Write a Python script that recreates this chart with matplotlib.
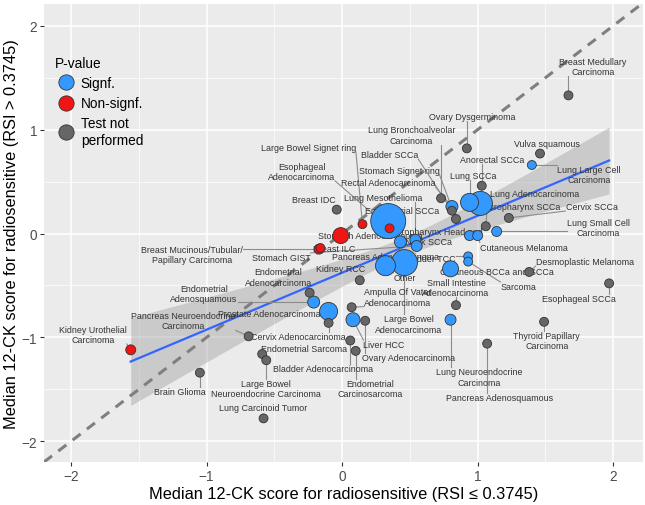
import numpy as np
import matplotlib
matplotlib.use("Agg")
import matplotlib.pyplot as plt
from matplotlib.lines import Line2D

plt.rcParams["font.family"] = ["Liberation Sans", "DejaVu Sans"]

# ---- data ----
tumor_types = [
    "Breast Medullary\nCarcinoma", "Ovary Dysgerminoma", "Vulva squamous", "Anorectal SCCa",
    "Lung Bronchoalveolar\nCarcinoma", "Bladder SCCa", "Stomach Signet ring", "Cervix SCCa",
    "Oropharynx SCCa", "Breast IDC", "Desmoplastic Melanoma", "Esophageal SCCa",
    "Kidney RCC", "Endometrial\nAdenocarcinoma", "Cervix Adenocarcinoma",
    "Ampulla Of Vater\nAdenocarcinoma", "Ovary Adenocarcinoma", "Bladder Adenocarcinoma",
    "Endometrial\nCarcinosarcoma", "Pancreas Neuroendocrine\nCarcinoma", "Endometrial Sarcoma",
    "Large Bowel\nNeuroendocrine Carcinoma", "Lung Carcinoid Tumor", "Brain Glioma",
    "Small Intestine\nAdenocarcinoma", "Pancreas Adenosquamous", "Thyroid Papillary\nCarcinoma",
    "Lung Large Cell\nCarcinoma", "Lung SCCa", "Lung Adenocarcinoma", "Rectal Adenocarcinoma",
    "Lung Small Cell\nCarcinoma", "Non-Oropharynx Head and\nNeck SCCa", "Cutaneous Melanoma",
    "Endometrial SCCa", "Pancreas Adenocarcinoma", "Lung Mesothelioma", "Stomach GIST",
    "Other", "Large Bowel\nAdenocarcinoma", "Cutaneous BCCa and SCCa", "Bladder TCC",
    "Sarcoma", "Endometrial\nAdenosquamous", "Prostate Adenocarcinoma", "Liver HCC",
    "Lung Neuroendocrine\nCarcinoma", "Large Bowel Signet ring", "Esophageal\nAdenocarcinoma",
    "Stomach Adenocarcinoma", "Breast Mucinous/Tubular/\nPapillary Carcinoma", "Breast ILC",
    "Kidney Urothelial\nCarcinoma",
]
score_low = [  # median 12-CK, RSI <= 0.3745
    1.67, 0.92, 1.46, 1.03, 0.73, 0.81, 0.84, 1.23, 1.06, -0.04, 1.38, 1.97,
    0.13, -0.24, -0.10, 0.07, 0.17, 0.06, 0.10, -0.69, -0.59, -0.56, -0.58, -1.05,
    0.84, 1.07, 1.49,
    1.40, 0.94, 1.02, 0.81, 1.14, 0.94, 1.00, 0.34, 0.43, 0.54, 0.55, 0.32, 0.46,
    0.80, 0.93, 0.93, -0.21, -0.10, 0.08, 0.80,
    0.15, 0.35, -0.01, -0.17, -0.16, -1.56,
]
score_high = [  # median 12-CK, RSI > 0.3745
    1.33, 0.82, 0.77, 0.46, 0.34, 0.22, 0.14, 0.15, 0.07, 0.23, -0.37, -0.48,
    -0.45, -0.57, -0.86, -0.71, -0.84, -1.03, -1.13, -0.99, -1.16, -1.22, -1.78, -1.34,
    -0.69, -1.06, -0.85,
    0.66, 0.30, 0.29, 0.26, 0.02, -0.02, -0.02, 0.12, -0.08, -0.06, -0.12, -0.31, -0.28,
    -0.34, -0.22, -0.27, -0.66, -0.75, -0.83, -0.83,
    0.09, 0.05, -0.02, -0.15, -0.14, -1.12,
]
# bubble size (relative sample count)
bubble_n = [
    4, 4, 4, 4, 4, 4, 4, 4, 4, 4, 4, 4,
    4, 4, 4, 4, 4, 4, 4, 4, 4, 4, 4, 4,
    4, 4, 4,
    4, 65, 128, 20, 9, 9, 9, 290, 20, 14, 14, 84, 153,
    48, 4, 4, 20, 65, 33, 14,
    4, 4, 48, 9, 4, 9,
]
p_group = (["Test not performed"] * 27 + ["Signf."] * 20 + ["Non-signf."] * 6)

# label anchor positions (where the repelled labels sit)
label_xy = [
    (1.85, 1.61), (0.96, 1.13), (1.51, 0.87), (1.11, 0.71), (0.51, 0.95), (0.35, 0.76),
    (0.42, 0.61), (1.84, 0.26), (1.34, 0.26), (-0.21, 0.33), (1.79, -0.27), (1.75, -0.63),
    (-0.01, -0.34), (-0.47, -0.42), (-0.32, -0.99), (0.41, -0.61), (0.49, -1.19),
    (-0.14, -1.30), (0.21, -1.49), (-1.17, -0.84), (-0.28, -1.11), (-0.56, -1.49),
    (-0.58, -1.68), (-1.20, -1.52), (0.84, -0.52), (1.16, -1.58), (1.51, -1.03),
    (1.82, 0.57), (0.97, 0.56), (1.42, 0.39), (0.34, 0.49), (1.89, 0.06), (0.64, -0.03),
    (1.34, -0.13), (0.44, 0.22), (0.32, -0.22), (0.30, 0.35), (-0.45, -0.23), (0.46, -0.42),
    (0.49, -0.87), (1.14, -0.37), (0.65, -0.24), (1.30, -0.51), (-1.02, -0.58),
    (-0.54, -0.77), (0.31, -1.07), (1.01, -1.38),
    (-0.25, 0.83), (-0.30, 0.60), (0.21, -0.02), (-1.11, -0.20), (-0.06, -0.14),
    (-1.84, -0.97),
]

colors = {"Signf.": "#3399FF", "Non-signf.": "#F01414", "Test not performed": "#666666"}

x = np.array(score_low)
y = np.array(score_high)
n = np.array(bubble_n, dtype=float)

fig = plt.figure(figsize=(6.45, 5.06), dpi=100)
ax = fig.add_axes([44 / 645, 1 - 463 / 506, 599 / 645, 458 / 506])
ax.set_facecolor("#EBEBEB")
for s in ax.spines.values():
    s.set_visible(False)
ax.set_xlim(-2.2, 2.22)
ax.set_ylim(-2.2, 2.21)
ax.set_xticks([-2, -1, 0, 1, 2])
ax.set_yticks([-2, -1, 0, 1, 2])
ax.set_xticks(np.arange(-1.5, 2.0, 1.0), minor=True)
ax.set_yticks(np.arange(-1.5, 2.0, 1.0), minor=True)
ax.grid(which="major", color="white", lw=1.1)
ax.grid(which="minor", color="white", lw=0.5)
ax.set_axisbelow(True)
ax.tick_params(which="major", length=3, width=0.8, color="#333333",
               labelcolor="#4D4D4D", labelsize=9.8, pad=2)
ax.tick_params(which="minor", length=0)

# y = x reference
ax.axline((0, 0), slope=1, color="#7F7F7F", lw=2.2, dashes=(3.3, 2.6), zorder=2)

# size-weighted linear fit with 95% band
xs = np.linspace(x.min(), x.max(), 100)
w = n
xw = (w * x).sum() / w.sum()
yw = (w * y).sum() / w.sum()
sxx = (w * (x - xw) ** 2).sum()
b = (w * (x - xw) * (y - yw)).sum() / sxx
a = yw - b * xw
resid = y - (a + b * x)
dof = len(x) - 2
sigma = np.sqrt((w * resid ** 2).sum() / dof)
se = sigma * np.sqrt(1 / w.sum() + (xs - xw) ** 2 / sxx)
t975 = 2.008
yfit = a + b * xs
ax.fill_between(xs, yfit - t975 * se, yfit + t975 * se, color="#999999", alpha=0.4,
                lw=0, zorder=1.5)
ax.plot(xs, yfit, color="#3366FF", lw=1.6, zorder=2.5)

# labels
texts = []
for i, name in enumerate(tumor_types):
    lx, ly = label_xy[i]
    t = ax.text(lx, ly, name, fontsize=6.4, color="#333333", ha="center", va="center",
                zorder=3)
    texts.append(t)

fig.canvas.draw()
r = fig.canvas.get_renderer()
to_px = ax.transData
to_data = ax.transData.inverted()
for i, t in enumerate(texts):
    bb = t.get_window_extent(r)
    px, py = to_px.transform((x[i], y[i]))
    cx = min(max(px, bb.x0), bb.x1)
    cy = min(max(py, bb.y0), bb.y1)
    if np.hypot(cx - px, cy - py) > 7:
        p0 = to_data.transform((px, py))
        p1 = to_data.transform((cx, cy))
        ax.plot([p0[0], p1[0]], [p0[1], p1[1]], color="#8C8C8C", lw=0.8, zorder=2.8)

# bubbles, biggest first; area grows with n on top of a minimum size
order = np.argsort(-n, kind="stable")
ax.scatter(x[order], y[order], s=(n[order] + 16) * 2.07,
           c=[colors[p_group[i]] for i in order],
           edgecolors="#333333", linewidths=0.6, zorder=4)

handles = [Line2D([], [], marker="o", ls="", markersize=11, markerfacecolor=colors[k],
                  markeredgecolor="#333333", markeredgewidth=0.6)
           for k in ["Signf.", "Non-signf.", "Test not performed"]]
leg = ax.legend(handles, ["Signf.", "Non-signf.", "Test not\nperformed"], title="P-value",
                loc="upper left", bbox_to_anchor=(0.0, 0.91), frameon=False,
                fontsize=9.8, title_fontsize=9.8, handletextpad=0.3, labelspacing=0.45,
                alignment="left", borderaxespad=0.4, handlelength=1.6)
leg.set_zorder(5)

ax.set_xlabel("Median 12-CK score for radiosensitive (RSI \u2264 0.3745)", fontsize=11.8,
              labelpad=2)
ax.set_ylabel("Median 12-CK score for radiosensitive (RSI > 0.3745)", fontsize=11.8,
              labelpad=2)

fig.savefig("out.png", dpi=100)
